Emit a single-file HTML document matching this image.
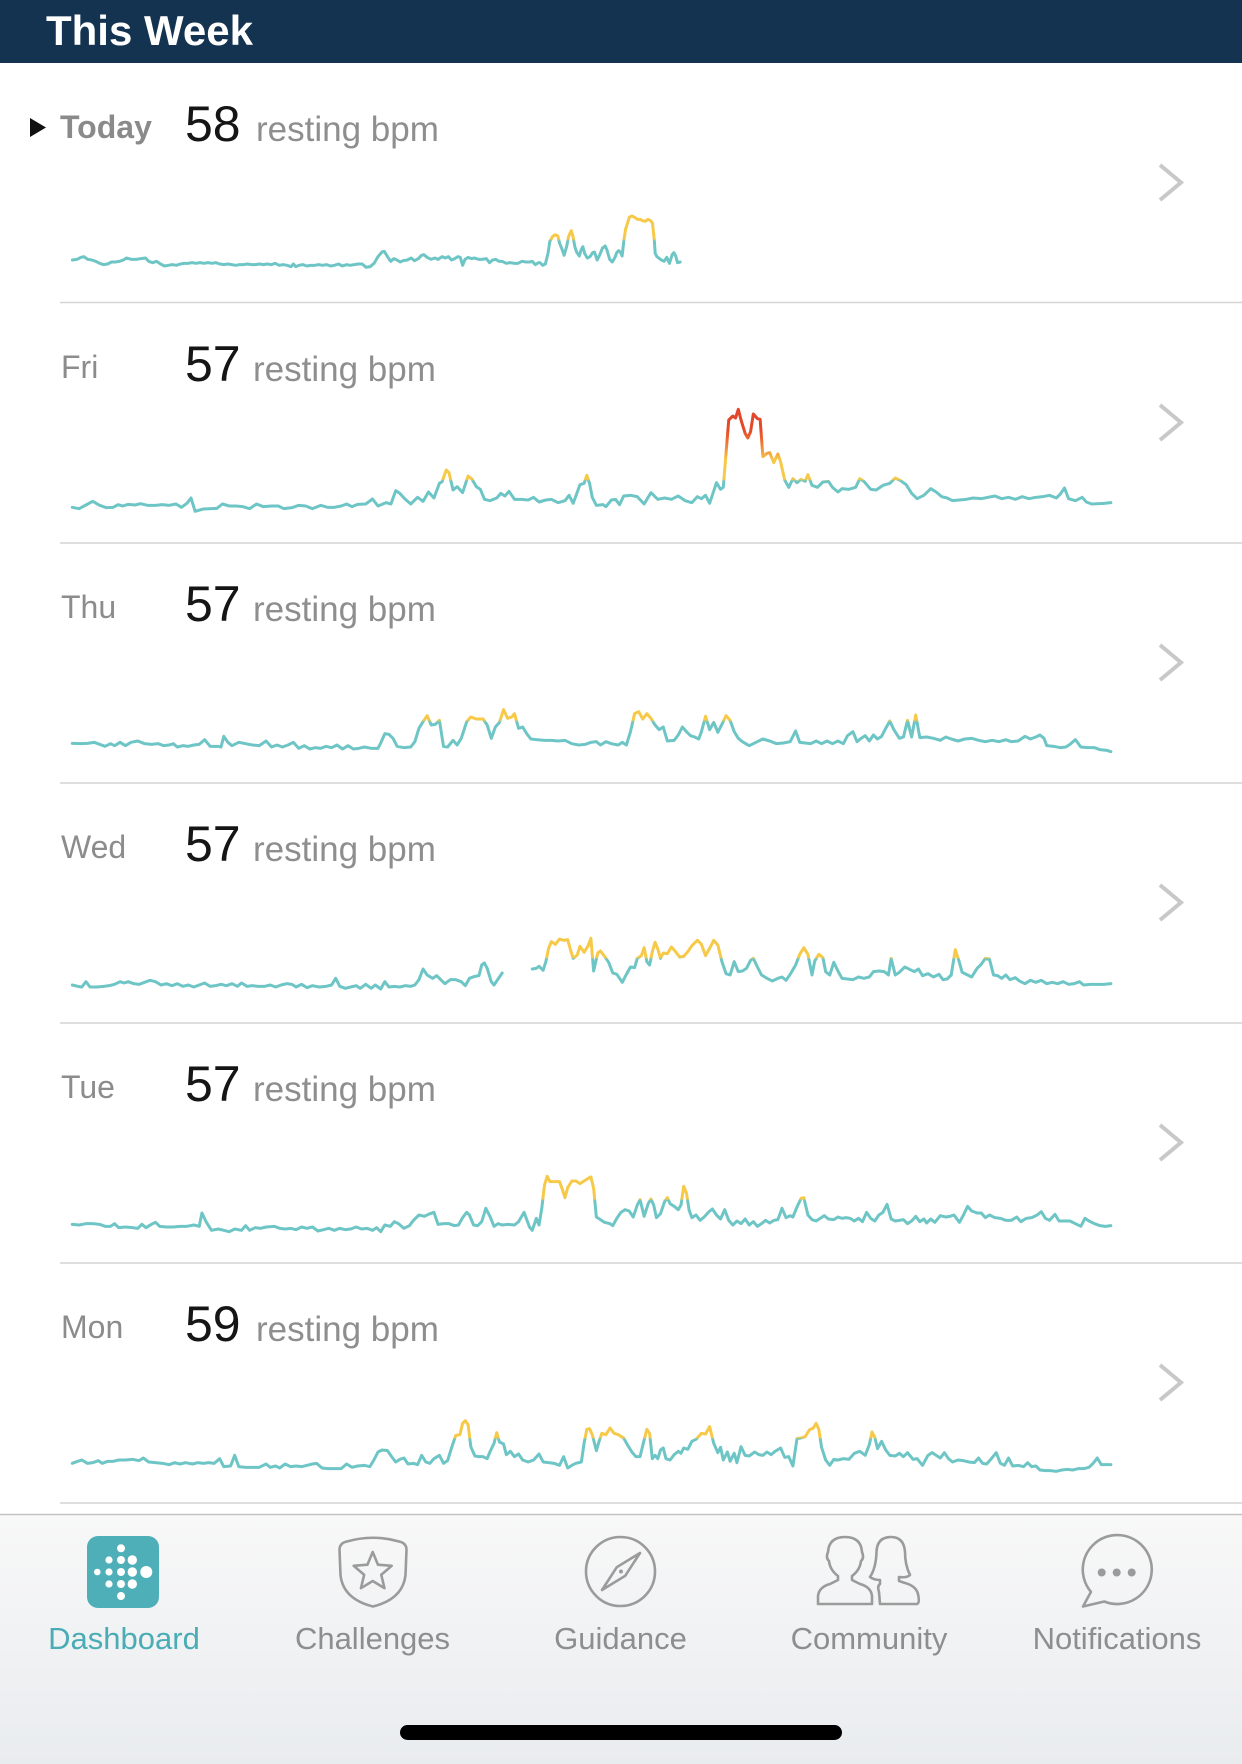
<!DOCTYPE html>
<html>
<head>
<meta charset="utf-8">
<style>
html,body{margin:0;padding:0;background:#fff;}
body{width:1242px;height:1764px;overflow:hidden;position:relative;font-family:"Liberation Sans",sans-serif;}
svg{position:absolute;left:0;top:0;}
</style>
</head>
<body>
<svg width="1242" height="1764" viewBox="0 0 1242 1764" xmlns="http://www.w3.org/2000/svg" font-family="Liberation Sans, sans-serif">
<defs>
  <linearGradient id="gF" gradientUnits="userSpaceOnUse" x1="0" y1="0" x2="0" y2="360">
    <stop offset="0" stop-color="#e2432a"/>
    <stop offset="0.25" stop-color="#e44a2a"/>
    <stop offset="0.33" stop-color="#ec6a30"/>
    <stop offset="0.42" stop-color="#f29a3a"/>
    <stop offset="0.5" stop-color="#f7c948"/>
    <stop offset="0.66" stop-color="#f7c948"/>
    <stop offset="0.675" stop-color="#6ec5c5"/>
    <stop offset="1" stop-color="#6ec5c5"/>
  </linearGradient>
  <linearGradient id="gT" gradientUnits="userSpaceOnUse" x1="0" y1="0" x2="0" y2="195">
    <stop offset="0" stop-color="#f7c948"/>
    <stop offset="0.38" stop-color="#f7c948"/>
    <stop offset="0.42" stop-color="#6ec5c5"/>
    <stop offset="1" stop-color="#6ec5c5"/>
  </linearGradient>
  <linearGradient id="gW" gradientUnits="userSpaceOnUse" x1="0" y1="0" x2="0" y2="210">
    <stop offset="0" stop-color="#f7c948"/>
    <stop offset="0.46" stop-color="#f7c948"/>
    <stop offset="0.49" stop-color="#6ec5c5"/>
    <stop offset="1" stop-color="#6ec5c5"/>
  </linearGradient>
  <linearGradient id="gTu" gradientUnits="userSpaceOnUse" x1="0" y1="0" x2="0" y2="210">
    <stop offset="0" stop-color="#f7c948"/>
    <stop offset="0.48" stop-color="#f7c948"/>
    <stop offset="0.51" stop-color="#6ec5c5"/>
    <stop offset="1" stop-color="#6ec5c5"/>
  </linearGradient>
  <linearGradient id="gM" gradientUnits="userSpaceOnUse" x1="0" y1="0" x2="0" y2="210">
    <stop offset="0" stop-color="#f7c948"/>
    <stop offset="0.39" stop-color="#f7c948"/>
    <stop offset="0.42" stop-color="#6ec5c5"/>
    <stop offset="1" stop-color="#6ec5c5"/>
  </linearGradient>
  <linearGradient id="gD" gradientUnits="userSpaceOnUse" x1="0" y1="0" x2="0" y2="300">
    <stop offset="0" stop-color="#f7c948"/>
    <stop offset="0.39" stop-color="#f7c948"/>
    <stop offset="0.41" stop-color="#6ec5c5"/>
    <stop offset="1" stop-color="#6ec5c5"/>
  </linearGradient>
  <linearGradient id="tabbg" x1="0" y1="0" x2="0" y2="1">
    <stop offset="0" stop-color="#f8f8f8"/>
    <stop offset="1" stop-color="#e9ecef"/>
  </linearGradient>
</defs>

<!-- Header -->
<rect x="0" y="0" width="1242" height="63" fill="#143350"/>
<text x="46" y="45" font-size="42" font-weight="bold" fill="#ffffff">This Week</text>

<!-- Row texts -->
<polygon points="30,118 46,127.5 30,137" fill="#111"/>
<text x="60" y="138" font-size="32" font-weight="bold" fill="#8a8a8a">Today</text>
<text x="185" y="141" font-size="50" fill="#151515">58</text>
<text x="256" y="141" font-size="35" fill="#8e8e8e">resting bpm</text>

<text x="61" y="378" font-size="32" fill="#8c8c8c">Fri</text>
<text x="185" y="381" font-size="50" fill="#151515">57</text>
<text x="253" y="381" font-size="35" fill="#8e8e8e">resting bpm</text>

<text x="61" y="618" font-size="32" fill="#8c8c8c">Thu</text>
<text x="185" y="621" font-size="50" fill="#151515">57</text>
<text x="253" y="621" font-size="35" fill="#8e8e8e">resting bpm</text>

<text x="61" y="858" font-size="32" fill="#8c8c8c">Wed</text>
<text x="185" y="861" font-size="50" fill="#151515">57</text>
<text x="253" y="861" font-size="35" fill="#8e8e8e">resting bpm</text>

<text x="61" y="1098" font-size="32" fill="#8c8c8c">Tue</text>
<text x="185" y="1101" font-size="50" fill="#151515">57</text>
<text x="253" y="1101" font-size="35" fill="#8e8e8e">resting bpm</text>

<text x="61" y="1338" font-size="32" fill="#8c8c8c">Mon</text>
<text x="185" y="1341" font-size="50" fill="#151515">59</text>
<text x="256" y="1341" font-size="35" fill="#8e8e8e">resting bpm</text>

<!-- Separators -->
<g stroke="#d4d4d4" stroke-width="1.5">
  <line x1="60" y1="302.5" x2="1242" y2="302.5"/>
  <line x1="60" y1="543" x2="1242" y2="543"/>
  <line x1="60" y1="783" x2="1242" y2="783"/>
  <line x1="60" y1="1023" x2="1242" y2="1023"/>
  <line x1="60" y1="1263" x2="1242" y2="1263"/>
  <line x1="60" y1="1503" x2="1242" y2="1503"/>
</g>

<!-- Chevrons -->
<g fill="none" stroke="#c8c8c8" stroke-width="4">
  <polyline points="1160,165 1181,182.5 1160,200"/>
  <polyline points="1160,405 1181,422.5 1160,440"/>
  <polyline points="1160,645 1181,662.5 1160,680"/>
  <polyline points="1160,885 1181,902.5 1160,920"/>
  <polyline points="1160,1125 1181,1142.5 1160,1160"/>
  <polyline points="1160,1365 1181,1382.5 1160,1400"/>
</g>

<!-- Charts -->
<g fill="none" stroke-width="3" stroke-linejoin="round" stroke-linecap="round">
  <!-- Today A -->
  <g transform="translate(0 0) scale(0.39541 0.333333)">
    <polyline vector-effect="non-scaling-stroke" stroke="#6ec5c5" points="183,780 195,778 205,772 212,770 222,778 232,780 242,784 252,790 262,794 272,792 282,786 292,786 302,784 312,780 320,774 332,778 344,778 356,776 368,774 376,784 386,788 396,784 406,792 416,798 426,796 436,794 446,796 456,792 466,790 476,790 486,788 496,790 506,788 516,790 526,788 536,790 546,788 556,792 566,794 576,792 586,794 596,796 606,794 616,794 626,792 636,794 646,794 656,792 666,794 676,792 686,794 696,790 706,796 716,794 726,796 736,800 742,792 748,800 756,796 766,794 776,798 786,796 796,796 806,794 816,796 826,794 836,798 846,796 856,792 866,798 876,794 886,796 896,794 906,792 916,792 926,802 936,800 946,790 956,770 966,756 972,754 980,770 988,784 996,776 1004,780 1012,786 1020,782 1030,780 1040,774 1048,782 1058,776 1066,766 1072,764 1080,772 1090,778 1100,774 1108,778 1118,770 1126,774 1134,770 1142,780 1150,776 1158,770 1164,772 1170,796 1176,778 1184,772 1192,776 1200,774 1210,778 1220,778 1230,776 1238,788 1246,780 1254,778 1262,784 1270,784 1280,790 1290,788 1300,790 1310,790 1320,784 1330,786 1340,786 1346,784 1354,794 1362,788"/>
  </g>
  <!-- Today B -->
  <g transform="translate(540 200) scale(0.446429 0.333333)">
    <polyline vector-effect="non-scaling-stroke" stroke="url(#gD)" points="0,188 6,196 12,192 18,160 22,124 28,110 34,104 40,108 44,130 50,150 54,166 60,138 64,110 70,92 74,110 78,140 82,156 88,168 92,150 96,140 100,160 106,174 112,170 118,158 122,156 128,180 134,164 140,144 146,138 150,150 156,178 162,186 168,172 172,158 176,152 180,156 184,168 188,120 192,86 196,70 200,52 206,48 212,52 218,58 224,58 230,62 236,64 242,58 248,62 252,70 256,120 258,160 262,170 268,176 272,180 278,184 284,172 290,190 296,164 300,158 304,168 308,188 314,186"/>
  </g>
  <!-- Fri -->
  <g transform="translate(60 400) scale(0.682398 0.333333)">
    <polyline vector-effect="non-scaling-stroke" stroke="url(#gF)" points="18,322 28,326 38,315 48,304 58,316 68,323 78,322 85,314 92,318 100,313 110,315 118,311 128,316 140,316 150,314 160,316 170,312 178,322 186,310 192,294 198,334 210,327 230,325 238,312 248,318 258,318 268,320 278,326 288,312 298,320 310,318 320,318 328,326 340,323 350,316 360,318 370,326 382,316 392,322 402,322 412,318 420,312 428,320 436,313 448,312 458,297 466,318 478,308 485,312 492,272 498,280 505,296 514,312 524,292 532,304 540,276 548,294 556,250 560,245 566,210 570,218 576,270 582,260 590,278 598,228 604,238 610,260 616,268 622,298 630,302 640,294 646,280 652,288 658,274 666,298 676,298 686,300 694,292 702,306 712,300 720,298 730,308 740,302 746,286 752,310 762,254 768,250 772,226 776,250 780,292 786,316 796,314 800,320 808,300 814,298 820,314 826,288 836,286 846,290 856,312 866,278 876,298 886,294 896,298 906,288 916,302 926,308 934,290 940,296 946,286 952,310 962,248 968,268 972,262 976,160 980,60 986,48 990,54 994,28 998,60 1004,100 1008,114 1012,95 1016,42 1022,56 1026,58 1030,170 1036,160 1040,158 1046,188 1052,162 1056,186 1062,240 1068,262 1074,236 1080,248 1086,238 1092,244 1096,224 1102,256 1110,262 1118,246 1126,244 1132,262 1140,276 1146,266 1156,268 1166,262 1172,236 1178,244 1188,268 1196,270 1206,256 1216,250 1224,234 1232,242 1240,254 1248,280 1256,296 1266,286 1276,266 1284,276 1292,290 1300,294 1308,302 1318,300 1328,298 1338,294 1350,296 1360,292 1370,288 1380,296 1390,292 1400,298 1410,290 1420,296 1430,292 1440,290 1450,286 1460,294 1466,282 1472,264 1478,296 1488,302 1498,292 1504,306 1512,312 1530,310 1540,308"/>
  </g>
  <!-- Thu -->
  <g transform="translate(60 695) scale(0.682398 0.333333)">
    <polyline vector-effect="non-scaling-stroke" stroke="url(#gT)" points="18,145 30,146 40,145 50,142 58,148 66,154 74,146 80,152 88,142 96,152 104,142 114,138 124,146 134,148 144,146 152,152 160,150 166,146 172,156 180,152 188,154 196,150 204,148 212,134 220,154 232,154 236,156 240,124 246,142 252,152 262,142 272,146 282,150 292,152 302,138 310,156 318,150 326,156 334,150 342,142 350,160 358,152 366,162 374,158 382,160 390,154 398,158 406,150 414,162 422,152 430,162 438,160 446,156 456,160 466,160 470,144 476,116 482,118 488,130 494,154 504,158 514,156 520,140 526,100 532,80 538,62 544,90 550,88 556,76 562,154 568,156 576,136 582,150 588,130 596,80 602,66 610,72 620,72 626,90 632,130 638,96 644,82 650,44 656,70 662,66 666,56 672,100 678,96 684,116 690,132 698,134 710,136 720,136 730,138 740,136 750,146 760,150 770,148 778,142 786,140 792,150 800,140 808,146 818,150 824,142 830,150 836,110 842,56 848,50 854,72 860,56 866,70 872,90 878,104 884,96 890,138 900,136 906,120 912,96 918,110 924,122 930,126 936,132 940,110 946,64 952,104 958,82 964,112 970,88 976,62 982,76 988,110 994,130 1000,140 1010,152 1020,142 1030,132 1040,138 1050,146 1060,144 1070,140 1078,108 1084,142 1092,144 1100,146 1108,138 1116,146 1124,138 1132,146 1140,138 1148,146 1154,122 1162,110 1168,140 1174,130 1180,122 1186,138 1192,120 1198,132 1204,124 1210,100 1216,78 1222,104 1230,130 1236,126 1242,76 1248,126 1254,60 1260,128 1270,126 1280,130 1290,136 1298,126 1306,132 1316,138 1326,132 1336,130 1346,136 1356,140 1366,136 1376,140 1386,134 1394,140 1404,138 1414,124 1422,132 1430,126 1436,120 1442,130 1446,152 1456,154 1466,158 1474,156 1480,148 1488,134 1496,156 1506,158 1516,158 1524,164 1534,166 1540,170"/>
  </g>
  <!-- Wed -->
  <g transform="translate(60 925) scale(0.682398 0.333333)">
    <polyline vector-effect="non-scaling-stroke" stroke="url(#gW)" points="18,180 26,184 32,186 38,170 44,186 54,186 64,184 72,182 80,178 88,170 94,174 100,170 108,176 116,178 124,172 132,166 140,170 148,180 156,176 164,182 172,176 180,184 188,180 196,186 204,180 212,174 220,184 228,182 236,178 244,182 252,176 260,184 266,174 274,184 282,182 290,184 300,184 308,180 316,186 324,180 332,176 340,178 346,186 354,178 362,188 370,182 380,186 390,184 398,180 404,160 410,184 418,190 426,186 434,182 440,190 448,178 456,190 462,180 470,192 476,170 482,186 490,184 498,186 506,182 514,184 520,180 526,164 532,132 538,150 546,160 552,152 558,164 564,176 572,164 580,164 588,170 594,182 600,160 608,154 614,152 618,120 622,114 626,130 632,170 636,180 642,162 648,144"/>
    <polyline vector-effect="non-scaling-stroke" stroke="url(#gW)" points="692,132 698,130 702,124 708,136 712,110 716,70 720,50 726,58 732,42 738,46 744,44 748,74 752,100 758,90 762,64 768,82 774,62 778,40 782,138 788,84 792,78 798,94 804,112 810,144 816,148 820,160 824,172 830,148 836,126 842,128 846,100 852,92 856,68 860,110 864,120 868,80 872,52 876,72 880,100 884,84 890,86 896,66 902,80 908,96 914,94 920,80 926,62 934,46 940,58 946,92 952,70 958,46 964,60 970,110 976,146 982,150 988,110 994,140 1000,138 1006,130 1012,106 1016,100 1022,126 1028,150 1036,160 1044,168 1052,160 1058,156 1064,166 1070,148 1078,120 1084,88 1090,68 1096,88 1102,150 1106,108 1112,88 1118,98 1122,140 1128,150 1134,112 1140,138 1146,160 1154,162 1162,164 1170,156 1178,160 1186,156 1192,140 1200,138 1208,140 1214,150 1218,100 1224,150 1230,142 1238,126 1246,134 1252,140 1258,132 1264,152 1272,146 1280,156 1288,148 1294,164 1300,162 1306,150 1312,74 1318,112 1322,142 1330,150 1336,156 1344,130 1350,118 1356,100 1362,102 1368,150 1374,152 1380,160 1386,150 1392,164 1400,158 1406,168 1414,176 1422,166 1430,172 1438,166 1446,176 1454,172 1462,176 1470,170 1478,178 1486,176 1494,170 1500,180 1510,178 1520,178 1530,178 1540,176"/>
  </g>
  <!-- Tue -->
  <g transform="translate(60 1165) scale(0.682398 0.333333)">
    <polyline vector-effect="non-scaling-stroke" stroke="url(#gTu)" points="18,178 28,180 38,176 48,176 58,178 66,184 74,184 80,176 86,188 96,186 106,188 114,190 120,178 126,188 134,178 140,172 146,184 156,186 166,186 176,184 186,184 196,180 204,184 208,144 214,170 222,196 232,192 240,196 248,200 256,192 266,196 272,182 278,196 286,188 294,190 302,186 314,184 322,190 330,192 338,190 346,194 354,186 362,190 370,186 378,198 386,194 394,190 402,196 410,190 418,194 426,192 434,186 442,192 450,190 458,196 464,188 470,200 476,180 484,184 490,170 496,176 504,190 512,182 518,166 526,150 534,154 540,148 548,142 554,178 562,176 570,176 578,182 584,180 590,158 596,142 600,150 606,180 612,182 618,170 624,130 630,154 636,184 642,176 648,180 656,178 666,180 672,170 680,142 688,186 692,196 698,160 702,180 706,130 710,60 714,34 718,50 726,50 732,50 736,72 740,98 744,68 750,48 756,48 762,56 768,48 774,40 778,36 782,70 786,156 792,164 798,172 806,176 810,182 816,160 822,142 828,134 834,138 840,156 846,120 850,104 856,154 862,116 866,102 870,120 874,158 880,146 886,110 890,98 894,116 900,124 906,134 910,120 914,64 918,84 922,136 926,158 932,150 938,166 944,156 950,142 956,132 962,150 968,162 974,134 980,166 986,180 992,168 998,176 1004,162 1010,180 1016,170 1022,184 1028,176 1034,166 1040,174 1046,166 1052,164 1058,130 1064,158 1070,152 1074,156 1080,126 1086,100 1090,98 1096,150 1102,164 1108,168 1114,160 1120,152 1126,162 1134,164 1140,156 1146,160 1152,158 1158,160 1164,168 1170,160 1176,170 1182,142 1188,160 1194,168 1200,150 1206,142 1212,118 1218,162 1224,168 1230,166 1236,164 1242,176 1248,168 1254,154 1260,170 1266,162 1270,174 1276,162 1282,172 1290,152 1298,156 1304,154 1310,150 1318,172 1324,150 1330,124 1336,138 1344,144 1350,144 1356,158 1362,150 1370,158 1378,160 1386,166 1394,166 1402,156 1408,170 1416,160 1424,158 1432,150 1438,140 1444,160 1450,166 1458,148 1464,168 1472,168 1480,168 1488,176 1496,184 1502,160 1508,168 1516,176 1524,182 1532,184 1540,182"/>
  </g>
  <!-- Mon -->
  <g transform="translate(60 1410) scale(0.682398 0.333333)">
    <polyline vector-effect="non-scaling-stroke" stroke="url(#gM)" points="18,160 26,154 32,150 40,160 48,158 56,152 62,160 70,154 78,154 86,150 96,150 106,148 116,152 122,144 130,156 140,158 150,160 160,164 168,158 176,162 184,158 194,162 202,158 210,160 218,158 226,160 234,146 240,170 250,168 256,136 262,170 272,172 282,172 292,172 302,162 308,172 316,168 322,174 330,162 338,170 346,168 354,170 362,166 370,162 376,160 384,174 392,176 402,176 412,176 420,162 428,172 436,168 446,166 454,170 460,150 466,126 472,120 480,122 486,140 492,156 498,148 504,144 510,162 518,160 524,164 530,136 536,156 542,160 548,146 556,136 562,160 568,152 574,112 580,76 586,74 590,40 594,32 598,44 602,110 608,138 614,140 620,140 626,146 630,126 636,100 640,68 644,96 650,102 654,134 660,124 666,140 672,132 678,150 686,156 694,150 702,132 708,156 716,158 724,160 732,166 738,140 744,174 750,166 756,160 764,156 768,100 772,58 776,56 780,74 786,122 790,94 794,70 800,74 806,54 812,70 818,74 826,84 832,106 838,126 844,140 850,140 856,90 860,58 864,70 868,146 872,136 876,146 880,120 884,114 888,146 894,150 900,134 906,124 910,130 914,114 920,118 926,94 932,88 940,70 946,72 952,50 958,100 964,128 968,112 972,150 978,126 982,154 988,130 992,158 998,110 1004,136 1010,138 1018,126 1024,134 1030,136 1036,126 1042,134 1048,124 1056,114 1062,142 1068,140 1074,168 1080,86 1086,84 1092,80 1098,60 1104,54 1108,40 1112,58 1116,112 1122,150 1128,166 1134,148 1140,150 1148,146 1156,148 1164,130 1172,124 1180,136 1186,104 1190,66 1194,82 1198,116 1204,94 1210,120 1216,136 1224,138 1230,130 1236,140 1242,128 1250,148 1256,146 1264,166 1272,136 1278,128 1284,136 1290,144 1296,128 1302,146 1308,156 1316,150 1324,152 1332,156 1340,158 1346,144 1352,160 1358,162 1364,148 1372,128 1378,160 1384,166 1390,144 1396,168 1404,166 1412,170 1418,158 1424,170 1430,168 1436,180 1444,182 1452,182 1460,184 1468,180 1476,178 1484,180 1492,176 1500,176 1508,172 1514,160 1520,144 1526,164 1532,164 1540,164"/>
  </g>
</g>

<!-- Tab bar -->
<rect x="0" y="1514" width="1242" height="250" fill="url(#tabbg)"/>
<line x1="0" y1="1514.5" x2="1242" y2="1514.5" stroke="#c2c2c2" stroke-width="1.5"/>

<!-- Dashboard icon -->
<rect x="87" y="1536" width="72" height="72" rx="11" fill="#4eafb8"/>
<g fill="#ffffff">
  <circle cx="121" cy="1548.3" r="4"/>
  <circle cx="109" cy="1560" r="3.6"/>
  <circle cx="121" cy="1560" r="4"/>
  <circle cx="132.3" cy="1560" r="4.7"/>
  <circle cx="97.3" cy="1572" r="3.3"/>
  <circle cx="109" cy="1572" r="3.6"/>
  <circle cx="121" cy="1572" r="4"/>
  <circle cx="132.3" cy="1572" r="4.7"/>
  <circle cx="146.3" cy="1572" r="6"/>
  <circle cx="109" cy="1584" r="3.6"/>
  <circle cx="121" cy="1584" r="4"/>
  <circle cx="132.3" cy="1584" r="4.7"/>
  <circle cx="121" cy="1596" r="4"/>
</g>

<g fill="none" stroke="#9b9b9b" stroke-width="2.6" stroke-linejoin="round" stroke-linecap="round">
  <!-- Challenges shield -->
  <path d="M 339.5,1550 Q 339.5,1543 347,1541.5 Q 373,1534 399,1541.5 Q 406.5,1543 406.5,1550 L 405.5,1575 Q 403,1599 373,1606.5 Q 343,1599 340.5,1575 Z"/>
  <polygon points="372.7,1552 377.99,1564.72 391.72,1565.82 381.26,1574.78 384.46,1588.18 372.7,1581 360.94,1588.18 364.14,1574.78 353.68,1565.82 367.41,1564.72"/>
  <!-- Guidance compass -->
  <circle cx="620.5" cy="1571.5" r="34.5"/>
  <polygon points="602,1590 616.8,1567.2 640,1553 625.2,1575.8"/>
  <!-- Community -->
  <path d="M 818,1604 L 818,1596 Q 819,1587 830,1584 L 838,1580 L 838,1576 Q 830,1570 829,1561 Q 825.5,1558 828,1552 Q 829,1537 845,1537 Q 861,1537 862,1552 Q 864.5,1558 861,1561 Q 860,1570 852,1576 L 852,1580 L 860,1584 Q 871,1587 872,1596 L 872,1604 Z"/>
  <path d="M 880,1604 L 917,1604 Q 920,1603 918,1594 Q 916,1586 905,1583 L 899,1581 L 899,1577 Q 907,1578 910,1575 Q 905,1565 905,1552 Q 904,1537 891,1537 Q 877,1537 876.5,1552 Q 876,1568 870,1577 Q 874,1580 880,1580 L 880,1584 Q 877,1586 879,1592 Z"/>
  <!-- Notifications bubble -->
  <path d="M 1104.3,1601.5 A 34.5 34.5 0 1 0 1090.95,1591.85 L 1083,1606.5 Z"/>
</g>
<g fill="#9b9b9b">
  <circle cx="621" cy="1571.5" r="2"/>
  <circle cx="1101.7" cy="1572.5" r="4"/>
  <circle cx="1116.7" cy="1572.5" r="4"/>
  <circle cx="1131.7" cy="1572.5" r="4"/>
</g>

<!-- Tab labels -->
<g font-size="31" text-anchor="middle">
  <text x="124" y="1649" fill="#4aacb5">Dashboard</text>
  <text x="372.5" y="1649" fill="#8e8e8e">Challenges</text>
  <text x="620.5" y="1649" fill="#8e8e8e">Guidance</text>
  <text x="869" y="1649" fill="#8e8e8e">Community</text>
  <text x="1117" y="1649" fill="#8e8e8e">Notifications</text>
</g>

<!-- Home indicator -->
<rect x="400" y="1725" width="442" height="15" rx="7.5" fill="#000"/>
</svg>
</body>
</html>
